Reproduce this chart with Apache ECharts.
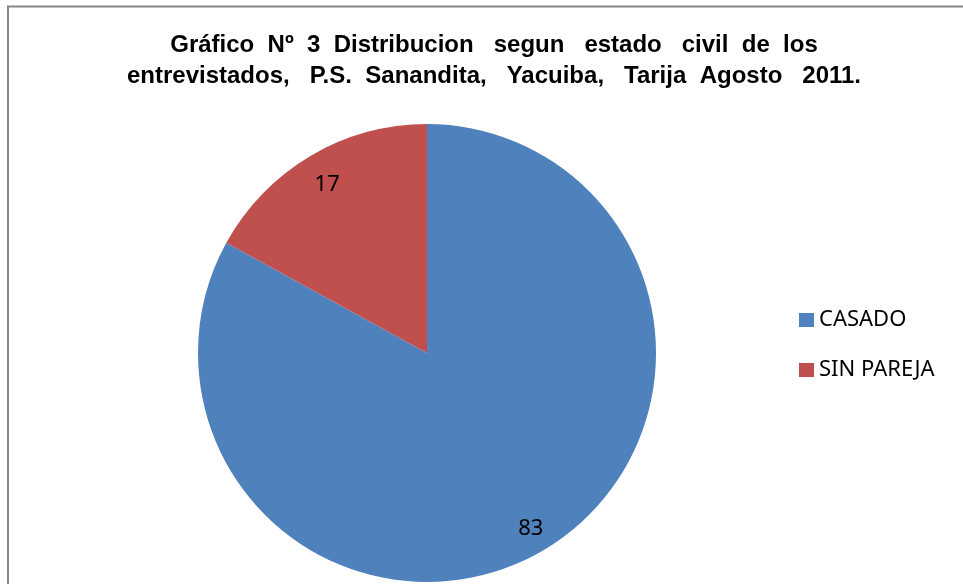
<!DOCTYPE html>
<html>
<head>
<meta charset="utf-8">
<script src="https://cdn.jsdelivr.net/npm/echarts@6/dist/echarts.min.js"></script>
<style>
  html, body { margin: 0; padding: 0; background: #fff; }
  #main { width: 963px; height: 584px; }
</style>
</head>
<body>
<div id="main"></div>
<script>
var categories = ['CASADO', 'SIN PAREJA'];
var values = [83, 17];
var colors = ['#4F81BD', '#C0504D'];

var pieData = [];
var labelData = [];
for (var i = 0; i < categories.length; i++) {
  pieData.push({ name: categories[i], value: values[i], itemStyle: { color: colors[i] } });
  labelData.push({ name: categories[i], value: values[i] });
}

var myChart = echarts.init(document.getElementById('main'));

var option = {
  animation: false,
  title: {
    text: 'Gráfico  Nº  3  Distribucion   segun   estado   civil  de  los\nentrevistados,   P.S.  Sanandita,   Yacuiba,   Tarija  Agosto   2011.',
    left: 489,
    top: 25,
    textAlign: 'center',
    textStyle: {
      fontFamily: 'Liberation Sans, Arial, sans-serif',
      fontWeight: 'bold',
      fontSize: 24,
      lineHeight: 31,
      color: '#000'
    }
  },
  legend: {
    orient: 'vertical',
    left: 794,
    top: 304,
    icon: 'rect',
    itemWidth: 15,
    itemHeight: 14,
    itemGap: 28,
    data: categories,
    textStyle: {
      fontFamily: 'Noto Sans',
      fontSize: 22,
      color: '#000'
    }
  },
  graphic: [{
    type: 'rect',
    shape: { x: 8, y: 6.5, width: 1000, height: 1000 },
    style: { fill: 'none', stroke: '#868686', lineWidth: 2 },
    silent: true
  }],
  series: [
    {
      name: 'estado civil',
      type: 'pie',
      center: [427, 353],
      radius: [0, 229],
      startAngle: 90,
      clockwise: true,
      label: { show: false },
      labelLine: { show: false },
      itemStyle: { borderWidth: 0 },
      emphasis: { disabled: true },
      data: pieData
    },
    {
      name: 'etiquetas',
      type: 'pie',
      center: [427, 353],
      radius: [165, 229],
      startAngle: 90,
      clockwise: true,
      silent: true,
      itemStyle: { color: 'rgba(0,0,0,0)', borderWidth: 0 },
      label: {
        show: true,
        position: 'inside',
        formatter: '{c}',
        fontFamily: 'Noto Sans',
        fontSize: 22,
        color: '#000',
        offset: [2, 4]
      },
      labelLine: { show: false },
      emphasis: { disabled: true },
      data: labelData
    }
  ]
};

myChart.setOption(option);
</script>
</body>
</html>
